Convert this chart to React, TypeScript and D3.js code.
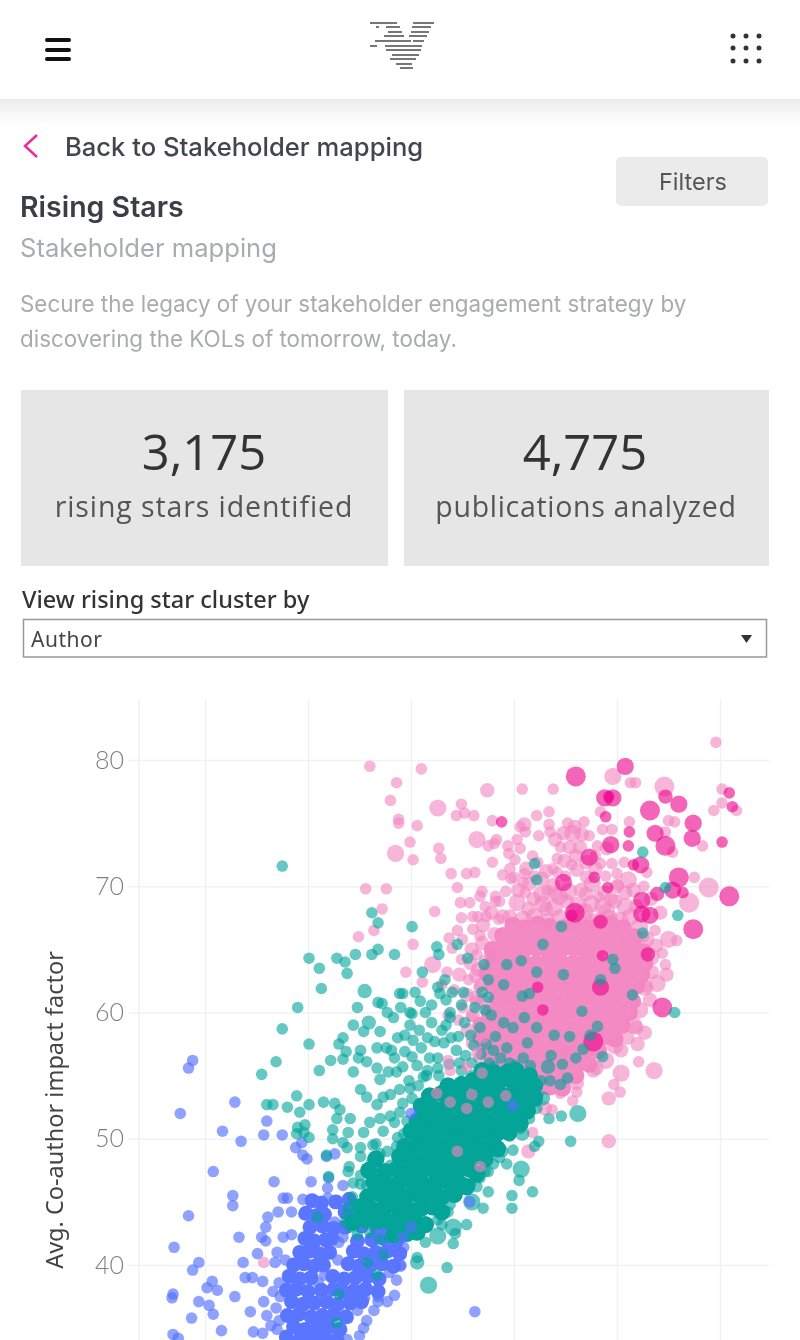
import { useEffect, useRef } from "react";
import * as d3 from "d3";

type Dot = number[]; // [x value, impact factor, size class (default 1)]

const yTicks = [40, 50, 60, 70, 80];
const xTicks = [10, 20, 30, 40, 50, 60];

const pinkLight: Dot[] = [
  [26.0,79.5],[28.6,78.2],[28.0,76.8],[28.8,75.3],[28.8,75.0],[28.5,72.6,3],[25.6,69.8],[27.6,69.8],[27.2,68.2],[26.4,66.5],[24.9,66.0],
  [59.6,81.4],[31.0,79.3],[37.4,77.6,2],[40.8,77.7],[43.8,77.7],[32.6,76.2,3],[34.9,76.5],[34.4,75.6],[35.2,75.8],[36.1,75.6],[37.9,75.2],
  [30.6,74.8],[29.9,73.5],[32.7,73.0],[32.9,72.2],[30.2,72.1],[36.4,73.7,3],[37.5,73.2],[38.3,73.7],[38.1,73.4],[39.4,73.2],[40.3,73.7],
  [40.6,73.0],[39.5,72.6],[40.1,72.1],[41.0,74.9,2],[41.1,74.3],[40.6,74.7],[42.2,75.6],[43.4,75.9],[43.4,74.9],[43.5,74.3],[42.4,74.0],
  [37.9,71.9],[41.8,72.4],[44.2,72.2],[44.5,73.1],[33.9,71.0],[35.4,71.0],[36.2,71.1],[34.5,69.9],[36.9,69.6],[36.7,69.2],[34.8,68.7],
  [35.7,68.7],[32.3,68.0],[34.9,67.5],[36.5,67.6],[37.3,67.6],[38.5,67.4],[34.5,66.5],[36.7,66.1],[33.7,65.9],[30.2,65.4],[34.0,65.1],
  [29.5,63.2],[31.1,62.4],[32.1,63.8,3],[38.2,69.2],[38.6,68.8],[39.7,70.6],[39.2,69.6],[41.1,69.5],[43.2,69.7],[44.2,71.1],[45.7,74.2,3],
  [44.8,74.2,2],[46.6,74.1,2],[45.9,74.7,2],[45.4,73.1,2],[46.4,73.1,2],[48.1,73.2],[46.1,71.3,2],[47.1,70.7,2],[45.0,70.8],[49.6,78.7,3],
  [51.3,78.2],[51.8,78.2],[54.6,77.9,4],[60.2,77.7],[60.2,76.6],[59.4,76.0],[61.6,76.0],[48.4,75.9],[51.2,75.1],[55.0,75.2],[55.6,75.1],
  [48.6,74.5],[49.5,74.5],[54.7,74.3],[58.3,73.2],[55.4,72.7],[48.4,71.8],[49.5,71.8],[52.9,71.1],[51.1,70.5,3],[50.1,70.1],[57.5,70.7],
  [58.9,69.9,4],[57.0,68.7,4],[55.0,65.8,3],[55.8,65.7],[53.7,66.5],[54.7,63.8],[54.8,63.0,2],[53.9,62.3,3],[52.9,62.0],
  [49.8,57.4,3],[52.0,57.5,2],[52.7,58.4,2],[51.9,58.8,2],[52.1,56.1],[53.6,55.4,3],[50.4,55.2,3],[49.7,54.3],[50.3,53.7],[49.2,53.2,2],
  [47.7,55.4,2],[47.2,56.9],[46.1,54.4,2],[46.1,53.7],[45.7,53.0],[44.5,53.6],[43.0,52.4,2],[41.8,50.5],[41.4,49.0,2],[39.9,51.5],[49.2,49.8,2],[36.6,47.7],
  // upper edge of the dense cloud
  [41.5,70.2,2],[42.7,69.4,3],[43.8,70.1,2],[45.3,69.6,3],[46.5,69.7,2],[47.6,70.2,3],[48.8,69.5,2],
  [40.3,68.7,3],[41.4,68.2,2],[42.8,68.6,3],[43.9,68.3,3],[45.1,68.8,2],[46.2,68.5,3],[47.5,68.6,3],[48.6,68.4,3],[49.8,68.8,2],[50.8,68.4,3],
  [39.6,67.6,2],[40.9,67.4,3],[42.0,67.6,3],[43.2,67.2,3],[44.4,67.5,3],[45.6,67.2,3],[46.8,67.5,3],[48.0,67.2,3],[49.2,67.5,3],[50.3,67.3,3],[51.3,67.6,3],
  [40.4,69.7,2],[41.9,69.0,2],[43.1,68.2,2],[44.4,69.2,3],[45.8,68.0,2],[47.0,69.4,2],[48.2,69.2],[49.4,69.0,2],[50.0,70.0,2],[41.0,71.0],[43.8,71.4],[45.6,71.7],
  [47.9,71.4,2],[42.7,70.6,2],[44.0,69.4,2],[46.9,68.0,3],[49.0,68.0,3],[51.9,68.4,2],
  // flanks of the cloud
  [52.2,66.8,3],[52.8,65.8,3],[53.3,64.4,3],[53.4,63.2,2],[52.7,62.0,3],[53.2,61.0,2],[52.2,60.2,3],[51.6,59.0,3],[51.0,58.0,2],[50.4,57.0,2],[48.9,56.2,3],[48.0,55.6,2],
  [37.8,64.6,2],[37.2,64.0,2],[36.5,63.4,2],[36.8,62.2,2],[36.3,61.2,2],[36.0,59.8,2],[35.5,58.6,2],[36.0,57.6,2],[36.6,56.4],[37.4,55.4],
  [35.0,65.8],[36.0,66.6],[37.0,66.9,2],[38.1,66.2,2],[35.9,65.0,2],[36.9,65.5,2],[34.9,64.2],[35.8,63.9,2],[36.4,64.6],[33.5,63.2],[34.7,63.0,2],[35.6,62.6],
  [36.3,62.9,2],[33.0,62.2],[34.2,61.8],[35.4,61.4,2],[36.4,60.8,2],[35.0,60.4],[33.6,59.8],[34.6,59.4],[35.9,59.7],[37.8,67.9,2],[38.9,67.6,2],[37.2,68.4],
  [38.2,68.8],[36.0,67.6],[36.6,62.0],[37.0,61.0,2],
  // above the cloud
  [41.2,71.4,2],[42.3,71.9],[43.1,71.2,2],[40.9,70.3],[42.0,70.8],[44.9,72.0,2],[46.0,72.4,2],[47.0,71.9,2],[47.9,72.4],[48.9,70.8],[50.0,71.0],[49.0,73.0,2],
  [44.0,73.7,2],[47.3,74.0],[45.2,75.0],[46.8,75.1],[50.7,71.9],[40.0,70.7],[38.9,70.9],[39.6,71.4],[50.8,69.5,2],[51.6,69.7,2],[52.6,70.0],[53.3,69.0,2],
  [54.2,67.9,2],[52.6,66.0],[53.8,65.3,2],[54.4,64.7],
];

const pinkCore: Dot[] = [
  [39.9,66.9],[41.0,66.7],[42.3,67.0],[43.4,66.8],[44.7,66.7],[45.8,67.0],[47.0,66.7],[48.2,66.9],[49.4,67.0],[50.6,66.7],
  [38.9,66.1],[39.9,65.9],[41.1,66.0],[42.3,66.1],[43.5,65.9],[44.7,66.0],[45.9,66.1],[47.1,65.9],[48.3,66.0],[49.5,66.1],[50.7,65.9],[51.7,66.0],
  [37.9,65.0],[38.7,65.1],[39.8,64.9],[41.0,65.0],[42.2,65.1],[43.4,64.9],[44.6,65.0],[45.8,65.1],[47.0,64.9],[48.2,65.0],[49.4,65.1],[50.6,64.9],[51.8,65.0],[52.6,64.8],
  [38.0,64.0],[38.7,63.9],[39.7,64.1],[40.9,64.0],[42.1,63.9],[43.3,64.1],[44.5,64.0],[45.7,63.9],[46.9,64.1],[48.1,64.0],[49.3,63.9],[50.5,64.1],[51.7,64.0],[52.7,63.9],
  [37.4,63.1],[38.2,63.0],[39.4,62.9],[40.6,63.1],[41.8,63.0],[43.0,62.9],[44.2,63.1],[45.4,63.0],[46.6,62.9],[47.8,63.1],[49.0,63.0],[50.2,62.9],[51.4,63.1],[52.4,63.0],
  [37.9,62.1],[38.7,61.9],[39.9,62.0],[41.1,62.1],[42.3,61.9],[43.5,62.0],[44.7,62.1],[45.9,61.9],[47.1,62.0],[48.3,62.1],[49.5,61.9],[50.7,62.0],[51.9,62.1],
  [38.4,61.0],[39.5,61.1],[40.7,60.9],[41.9,61.0],[43.1,61.1],[44.3,60.9],[45.5,61.0],[46.7,61.1],[47.9,60.9],[49.1,61.0],[50.3,61.1],[51.5,60.9],
  [37.6,60.0],[38.5,60.1],[39.7,59.9],[40.9,60.0],[42.1,60.1],[43.3,59.9],[44.5,60.0],[45.7,60.1],[46.9,59.9],[48.1,60.0],[49.3,60.1],[50.5,59.9],[51.2,60.0],
  [36.8,59.0],[37.6,59.1],[38.8,58.9],[40.0,59.0],[41.2,59.1],[42.4,58.9],[43.6,59.0],[44.8,59.1],[46.0,58.9],[47.2,59.0],[48.4,59.1],[49.6,58.9],[50.5,59.0],
  [36.8,58.0],[38.1,58.1],[39.3,57.9],[40.5,58.0],[41.7,58.1],[42.9,57.9],[44.1,58.0],[45.3,58.1],[46.5,57.9],[47.7,58.0],[48.9,58.1],[49.8,57.9],
  [37.3,57.0],[38.6,56.9],[39.8,57.1],[41.0,57.0],[42.2,56.9],[43.4,57.1],[44.6,57.0],[45.8,56.9],[47.0,57.1],[48.2,57.0],
  [37.9,56.1],[39.2,56.0],[40.4,55.9],[41.6,56.1],[42.8,56.0],[44.0,55.9],[45.2,56.1],[46.4,56.0],[47.3,55.9],
  [38.8,55.0],[40.0,55.1],[41.2,54.9],[42.4,55.0],[43.6,55.1],[44.8,54.9],[46.0,55.0],
  [39.8,54.1],[41.1,54.0],[42.3,53.9],[43.5,54.1],[44.7,54.0],
];

const hotPink: Dot[] = [
  [46.0,78.7,4],[50.8,79.5,3],[48.8,77.0,3],[49.6,77.0,3],[49.2,77.1],[54.7,77.1,2],[56.0,76.5,3],[53.2,76.0,4],[48.9,75.5],[60.9,77.4],
  [61.2,76.3],[57.4,75.0,3],[57.3,73.8,3],[53.7,74.2,3],[54.7,73.2,4],[51.2,74.3],[51.1,73.2],[49.4,73.3,3],[60.2,73.5],[38.8,75.1],
  [47.3,72.3,3],[51.6,71.7],[52.3,71.7,3],[44.8,70.3,3],[47.8,70.7],[49.1,69.9],[56.0,70.7,4],[55.4,69.7,3],[53.9,69.4,2],[56.4,69.5],
  [52.4,68.9,3],[60.9,69.2,4],[52.4,67.8,3],[53.2,67.7,3],[57.4,66.6,4],[45.9,67.9,4],[45.6,67.7],[48.4,67.2,2],[53.0,64.6,2],[48.6,64.5],
  [48.4,62.0,3],[54.4,60.4,4],[42.3,62.0],[42.8,60.2],[47.7,57.7,4],
];

const tealScatter: Dot[] = [
  [17.5,71.6],[26.2,67.9],[26.8,67.1],[20.1,64.3],[21.1,63.5],[22.8,64.3],[23.6,64.0],[23.8,63.1],[24.6,64.6],[26.2,64.6],[26.8,65.0],[28.4,64.6],
  [21.3,61.9],[25.5,61.7,2],[19.0,60.4],[24.8,60.4],[26.8,60.8],[27.2,60.7],[27.7,60.0],[28.9,61.5],
  [52.5,72.7],[55.9,67.7],[52.5,66.3],[54.7,69.9],[42.0,71.8],[42.2,70.5],[44.6,66.8],[42.8,65.4],[30.1,66.8],[32.5,65.2],[32.7,64.6],[34.5,65.4],
  [31.1,63.2],[33.3,62.6],[32.6,62.0],[32.8,61.5],[34.0,61.6],[30.4,61.6],[29.2,61.5],[35.5,64.3],[37.1,63.8],[39.3,63.8],[40.7,64.1],[42.2,63.2],
  [44.8,63.0],[37.5,62.6],[39.0,62.2],[36.9,61.6],[40.8,61.3],[41.5,61.5],[48.4,62.6],[49.6,64.2],[49.8,63.5],[51.5,61.4],[55.6,60.0],[46.6,60.1],
  [32.0,60.6],[33.8,60.0],[29.9,60.0],
  [17.5,58.7],[20.1,57.5],[16.9,56.1],[15.5,55.1],[21.1,55.4],[22.2,56.2],[24.4,59.0],[25.9,59.2,2],[25.4,58.5],[27.0,58.5],[23.4,58.0],[23.0,57.5],
  [23.7,56.9],[23.4,56.3],[25.1,57.0],[24.9,56.4],[25.7,56.1],[26.7,57.2],[27.6,57.2],[26.7,55.6],[24.4,55.3],[27.0,54.7],[27.8,55.3],[28.4,56.4],
  [28.6,55.3],[18.9,53.4],[16.0,52.7],[16.6,52.7],[18.0,52.5],[20.1,52.7],[21.5,52.9],[19.2,52.1],[22.6,52.8],[23.1,52.3],[24.1,51.6],[22.8,51.6],
  [19.0,50.9],[19.7,51.1],[18.9,50.4],[19.6,50.5],[20.1,50.1],[22.4,50.7],[23.9,50.5],[25.4,50.5],[22.4,50.0],[23.4,49.7],[23.8,49.3],[26.3,49.5],
  [25.1,49.3],[25.1,48.6],[21.8,48.7],[24.0,47.8],[23.9,47.4],[25.1,47.1],[22.0,47.0],[24.4,46.5],[25.1,53.9],[25.7,53.3],[27.3,53.3],[26.7,52.7],
  [27.0,51.6],[26.0,51.3],[28.4,51.3],[28.0,53.5],[28.7,50.1],[28.9,52.1],[27.7,49.0],[28.0,47.9],[26.7,47.7],[25.7,46.3],
  [46.2,52.0,3],[45.5,49.8],[44.6,51.8],[43.4,51.6],[42.4,49.8],[42.0,49.4],[39.9,49.1],[40.7,47.6,3],[40.5,46.7],[41.8,45.8],[37.5,45.8],[39.8,45.5],
  [39.8,44.5],[37.0,44.5],[35.9,45.0,3],[33.6,44.2],[35.4,43.2],[34.1,43.0,3],[34.3,42.5],[32.6,42.3,3],[34.1,41.7],[33.0,43.2],[30.6,40.6],[30.6,40.2,2],
  [33.5,39.8],[31.7,38.4,3],[40.8,50.4,2],[38.4,49.5],[39.3,48.0],[38.6,48.5],[37.5,47.4],[36.7,46.9],[35.8,46.5],[48.6,56.5],[48.1,58.9],[43.3,55.7,2],
  [45.2,54.8],[42.8,53.2,2],[45.4,58.1],[39.9,58.8],[42.2,58.8],[40.9,56.4],[40.1,55.8],[38.0,55.7],[38.2,58.1],[36.7,58.8],[31.8,56.4],[30.2,57.8],
  [32.0,59.2],[33.8,59.6],[29.2,55.7],[31.2,54.9],[29.9,59.0],[32.6,56.4],[34.6,58.1],[36.1,57.4],[35.2,59.2],[37.2,60.2],[30.8,58.6],[33.2,57.6],
  // thick patch leading into the main cluster
  [29.4,58.2],[30.1,56.5],[31.0,57.2],[31.6,58.0],[32.3,57.7],[33.0,58.6],[33.9,58.0],[34.4,57.0],[35.3,56.6],[34.7,56.0],[35.9,56.0],[36.8,56.7],
  [37.3,57.5],[38.0,57.0],[38.7,56.4],[39.3,57.2],[39.0,59.2],[37.8,59.8],[36.2,60.4],[34.9,60.6],[33.4,61.0],[31.4,60.0],[30.9,60.9],[30.1,59.9],
  [29.0,60.4],[28.3,59.6],[28.7,58.0],[28.1,57.0],[29.4,56.9],[30.6,55.8],[31.6,55.4],[32.7,55.0],[29.8,54.6],[28.9,53.9],[30.1,53.2],[30.8,52.0],
  [29.6,51.4],[29.3,50.4],[28.6,49.4],[29.9,49.0],[33.4,59.0],[35.8,58.2],[37.5,61.2],[35.1,61.6],[41.3,57.6],[43.9,58.2],[41.0,59.6],[46.7,57.1],
  [43.6,56.6],[44.7,55.9],[46.0,56.4],[47.4,58.2],[44.5,54.3],[43.5,54.6],
  // rim of the main cluster
  [26.6,49.6],[27.3,50.6],[28.0,51.8],[29.2,52.8],[29.9,54.0],[30.7,54.2],[31.5,55.0],[32.6,55.6],[33.7,55.9],[34.9,55.4],[35.9,55.0],[27.0,48.8],
  [26.2,48.2],[25.1,46.4],[24.3,45.4],[23.9,44.6],[23.6,43.4],[24.8,42.4],[26.0,42.6],[27.0,42.0],[31.4,41.8],[32.6,43.6],[33.8,44.8],[35.2,46.4],
  [36.4,46.2],[37.2,47.4],[38.0,48.0],[38.9,49.0],[39.6,50.2],[40.6,50.8],[41.5,51.6],[42.2,52.4],[42.6,54.6],[41.6,55.8],[39.6,56.0],[37.6,56.0],
];

const tealCore: Dot[] = [
  [36.9,55.4],[38.1,55.2],[39.4,55.3],[40.2,55.4],[41.5,55.0],
  [33.6,54.2],[34.9,54.3],[36.0,54.6],[37.2,54.4],[38.5,54.5],[39.8,54.6],[41.0,54.4],[42.0,54.2],
  [31.8,53.4],[33.0,53.6],[34.1,53.5],[35.2,53.4],[36.5,53.6],[37.7,53.5],[38.9,53.4],[40.0,53.6],[41.2,53.5],[42.0,53.2],
  [31.0,52.6],[32.2,52.4],[33.4,52.5],[34.6,52.6],[35.8,52.4],[37.0,52.5],[38.2,52.6],[39.4,52.4],[40.6,52.5],[41.3,52.2],
  [30.6,51.4],[31.8,51.6],[32.9,51.5],[34.0,51.4],[35.2,51.6],[36.4,51.5],[37.6,51.4],[38.8,51.6],[40.0,51.5],[40.6,51.2],
  [30.0,50.6],[31.2,50.4],[32.4,50.5],[33.6,50.6],[34.7,50.4],[35.9,50.5],[37.1,50.6],[38.3,50.4],[39.5,50.5],
  [29.4,49.4],[30.7,49.6],[31.9,49.5],[33.0,49.4],[34.2,49.6],[35.4,49.5],[36.6,49.4],[37.8,49.6],[38.4,49.2],
  [28.9,48.6],[30.1,48.4],[31.3,48.5],[32.5,48.6],[33.7,48.4],[34.9,48.5],[36.1,48.6],[37.2,48.4],
  [26.6,48.4],[27.5,47.4],[28.6,47.6],[29.8,47.5],[31.0,47.4],[32.1,47.6],[33.3,47.5],[34.5,47.4],[35.7,47.6],[36.4,47.2],
  [25.9,47.5],[26.4,46.6],[27.6,46.4],[28.8,46.5],[30.0,46.6],[31.2,46.4],[32.4,46.5],[33.6,46.6],[34.8,46.4],[35.4,46.2],
  [25.8,45.4],[27.0,45.6],[28.2,45.5],[29.4,45.4],[30.6,45.6],[31.8,45.5],[33.0,45.4],[34.2,45.6],
  [25.0,44.6],[26.2,44.4],[27.4,44.5],[28.6,44.6],[29.8,44.4],[31.0,44.5],[32.1,44.6],[33.0,44.2],
  [24.4,43.4],[25.6,43.6],[26.8,43.5],[28.0,43.4],[29.2,43.6],[30.4,43.5],[31.4,43.2],
  [28.4,42.4],[29.6,42.5],[30.6,42.6],
];

const blueScatter: Dot[] = [
  [8.8,56.2],[8.4,55.6],[7.6,52.0],[12.9,52.9],[16.0,51.4],[11.7,50.6],[13.5,49.8],[15.7,50.3],[17.5,50.3],[10.8,47.4],[18.8,49.3],[19.4,49.7],
  [19.5,48.7],[19.9,48.4],[21.8,48.6],[22.6,48.8],[16.7,46.6],[20.3,46.6],[22.0,46.9],[21.9,46.1],[23.4,46.3],[12.7,45.5],[12.7,44.7],[17.6,45.3],
  [18.0,45.3],[19.5,45.2],[21.9,45.3],[22.8,45.1],[8.4,43.9],[17.1,44.2],[18.4,44.2],[19.6,44.0],[16.1,43.8],[15.9,43.0],[13.3,42.2],[15.5,42.2],
  [15.9,41.9],[17.6,42.2],[18.4,42.4],[7.0,41.4],[15.1,40.9],[9.4,40.2],[8.8,39.6],[13.7,40.2],[16.8,40.2],[13.9,39.0],[14.6,39.0],[15.6,38.7],
  [10.7,38.7],[10.2,38.2],[11.2,38.0],[12.9,37.5],[6.9,37.7],[6.8,37.4],[9.4,37.1],[10.4,36.8],[10.8,36.1],[8.7,35.8],[14.4,36.3],[15.7,37.1],
  [16.0,36.0],[11.6,34.8],[14.7,34.7],[15.6,34.6],[6.9,34.5],[7.4,34.2],[17.0,34.9],[17.3,37.5],[36.2,36.3],
  // fringe of the blue cluster
  [17.0,41.0],[17.8,40.4],[18.0,39.2],[17.2,38.6],[16.6,37.9],[16.9,36.6],[17.2,35.6],[16.4,35.2],[22.9,40.4],[23.0,41.8],[23.4,42.2],[22.6,43.4],
  [21.0,38.6],[21.6,39.2],[27.9,39.4],[28.6,38.8],[28.4,37.6],[25.7,35.6],[27.7,37.1],[26.8,37.1],[26.8,37.5],[25.5,37.4],[24.8,36.4],[23.9,35.8],
  [26.4,36.4],[25.4,35.0],[25.0,34.4],[23.8,34.1],[29.0,39.9],
];

const blueCore: Dot[] = [
  [20.4,45.1],[21.3,44.9],[22.7,45.0],[24.0,45.2],
  [19.8,44.1],[20.8,43.9],[21.6,44.0],[23.6,44.2],[24.9,43.9],
  [20.2,43.0],[21.4,43.1],[22.5,42.9],[23.6,43.0],[25.2,43.1],[26.7,42.9],[27.9,43.0],[29.0,43.1],
  [19.7,42.1],[20.6,41.9],[21.7,42.0],[22.3,42.1],[24.8,41.9],[26.2,42.0],[27.4,42.1],[28.6,41.9],
  [19.2,41.0],[20.1,41.1],[21.1,40.9],[22.1,41.0],[24.4,41.1],[25.4,40.9],[26.6,41.0],[27.7,41.1],[28.9,40.9],
  [18.6,40.0],[19.6,40.1],[20.6,39.9],[21.5,40.0],[23.9,40.1],[24.9,39.9],[26.1,40.0],[27.2,40.1],[28.3,39.9],
  [18.2,39.1],[19.2,38.9],[20.3,39.0],[22.4,39.1],[23.5,38.9],[24.6,39.0],[25.8,39.1],[26.9,38.9],
  [17.9,38.0],[18.9,38.1],[20.0,37.9],[21.3,38.0],[22.5,38.1],[23.4,37.9],[24.5,38.0],[25.6,38.1],[26.8,37.9],
  [18.4,37.1],[19.5,36.9],[20.6,37.0],[21.8,37.1],[22.9,36.9],[24.1,37.0],[25.2,37.1],
  [18.0,36.0],[19.1,36.1],[20.3,35.9],[21.4,36.0],[22.5,36.1],[23.7,35.9],
  [18.6,35.1],[19.7,34.9],[20.9,35.0],[22.0,35.1],[23.1,34.9],
  [17.9,34.3],[19.2,34.1],[20.5,34.2],[21.6,34.3],[22.8,34.1],
];

const tealOnBlue: Dot[] = [
  [23.0,37.7],[25.8,40.2],[26.7,39.2],[22.8,35.4],[20.9,43.8],[23.8,44.0],[24.1,43.0],[27.3,40.8],[27.9,42.2],
];

const blueOnTeal: Dot[] = [
  [30.0,52.0],[39.9,52.6],[35.7,45.0],[30.0,43.0],[29.2,42.2],[29.3,41.4],[29.0,40.0],
];

const pinkOnTeal: Dot[] = [
  [32.5,53.6],[33.8,55.4],[33.6,56.2],[36.4,56.8],[37.0,58.0],[35.4,55.7],[35.9,53.5],[35.4,52.4],[33.8,52.9],[39.2,53.4],[37.5,52.9],[36.9,55.2],
  [34.5,49.0],[36.7,47.8],[43.7,52.3],[45.0,56.9],[15.7,40.2],
];

// the stripes of the logo at the top, [left, right, row]
const logoStripes = [
  [370,397,23],[413,434,23],[376,379,27],[386,400,27],[412,431,27],[388,402,32],[411,429,32],[384,404,36],[409,427,36],
  [375,411,41],[413,424,41],[370,377,46],[385,422,46],[386,421,50],[392,419,55],[390,416,59],[396,412,64],[400,413,68],
];

const uiFont = "Inter, 'Noto Sans', sans-serif";
const cardFont = "'Open Sans', 'Noto Sans', sans-serif";

const radius = d3.scaleLinear().domain([1, 4]).range([5.8, 10]);

const layers: { dots: Dot[]; fill: string; opacity: number; size?: number }[] = [
  { dots: pinkCore, fill: "#f48ac3", opacity: 1, size: 3 },
  { dots: pinkLight, fill: "#f285c0", opacity: 0.6 },
  { dots: hotPink, fill: "#ec068c", opacity: 0.62 },
  { dots: blueScatter, fill: "#5470ff", opacity: 0.65 },
  { dots: blueCore, fill: "#5a75ff", opacity: 1, size: 2.2 },
  { dots: tealScatter, fill: "#00a499", opacity: 0.6 },
  { dots: tealCore, fill: "#04a498", opacity: 1, size: 3 },
  { dots: tealOnBlue, fill: "#00a499", opacity: 0.6 },
  { dots: blueOnTeal, fill: "#5470ff", opacity: 0.65 },
  { dots: pinkOnTeal, fill: "#f285c0", opacity: 0.6 },
];

export default function App() {
  const chartRef = useRef<SVGGElement>(null);

  useEffect(() => {
    const g = d3.select(chartRef.current);
    g.selectAll("*").remove();

    const x = d3.scaleLinear().domain([10, 60]).range([205, 720]);
    const y = d3.scaleLinear().domain([40, 80]).range([1265, 760]);

    // grid
    const axisY = g
      .append("g")
      .attr("transform", "translate(129,0)")
      .call(d3.axisLeft(y).tickValues(yTicks).tickSize(-640).tickPadding(5).tickFormat(d3.format("d")));
    axisY.select(".domain").remove();
    axisY.selectAll("line").attr("stroke", "#f1f1f1").attr("stroke-width", 1.5);
    axisY
      .selectAll("text")
      .attr("fill", "#7f7f7f")
      .style("font-family", "Lato, sans-serif")
      .style("font-size", "25px")
      .style("font-weight", 300);

    const axisX = g
      .append("g")
      .attr("transform", "translate(0,1340)")
      .call(d3.axisBottom(x).tickValues(xTicks).tickSize(-641).tickFormat(() => ""));
    axisX.select(".domain").remove();
    axisX.selectAll("line").attr("stroke", "#f1f1f1").attr("stroke-width", 1.5);

    g.append("line")
      .attr("x1", 139)
      .attr("x2", 139)
      .attr("y1", 699)
      .attr("y2", 1340)
      .attr("stroke", "#f1f1f1")
      .attr("stroke-width", 1.5);

    // dots
    layers.forEach((layer) => {
      g.append("g")
        .selectAll("circle")
        .data(layer.dots)
        .enter()
        .append("circle")
        .attr("cx", (d) => x(d[0]))
        .attr("cy", (d) => y(d[1]))
        .attr("r", (d) => radius(layer.size ?? d[2] ?? 1))
        .attr("fill", layer.fill)
        .attr("opacity", layer.opacity);
    });
  }, []);

  return (
    <svg
      width={800}
      height={1340}
      style={{ position: "absolute", left: 0, top: 0, background: "#fff", filter: "blur(0.5px)" }}
    >
      <defs>
        <linearGradient id="headerShadow" x1="0" x2="0" y1="0" y2="1">
          <stop offset="0" stopColor="#ececec" />
          <stop offset="1" stopColor="#ffffff" />
        </linearGradient>
      </defs>

      <rect x={0} y={99} width={800} height={26} fill="url(#headerShadow)" />

      {[40, 50, 59].map((v) => (
        <line key={v} x1={47} x2={69} y1={v} y2={v} stroke="#111" strokeWidth={4} strokeLinecap="round" />
      ))}
      {[36, 48, 61].map((cy) =>
        [733, 746, 759].map((cx) => <circle key={`${cx}-${cy}`} cx={cx} cy={cy} r={2.5} fill="#333" />)
      )}
      {logoStripes.map(([a, b, v], i) => (
        <line key={i} x1={a} x2={b} y1={v} y2={v} stroke="#777" strokeWidth={2} />
      ))}

      <polyline points="37,135 25,146 37,157" fill="none" stroke="#ee2b9c" strokeWidth={2.5} />
      <text x={65} y={156} fontFamily={uiFont} fontSize={25.6} fontWeight={500} fill="#41464d">
        Back to Stakeholder mapping
      </text>
      <rect x={616} y={157} width={152} height={49} rx={5} fill="#ebebeb" />
      <text x={693} y={190} textAnchor="middle" fontFamily={uiFont} fontSize={23.5} fill="#555">
        Filters
      </text>
      <text x={20} y={217} fontFamily={uiFont} fontSize={28.5} fontWeight={600} fill="#3a3f46">
        Rising Stars
      </text>
      <text x={20} y={257} fontFamily={uiFont} fontSize={25.6} fill="#a9abae">
        Stakeholder mapping
      </text>
      <text x={20} y={312} fontFamily={uiFont} fontSize={22.4} fill="#a9abae">
        Secure the legacy of your stakeholder engagement strategy by
      </text>
      <text x={20} y={347} fontFamily={uiFont} fontSize={22.4} fill="#a9abae">
        discovering the KOLs of tomorrow, today.
      </text>

      <rect x={21} y={390} width={367} height={176} fill="#e6e6e6" />
      <rect x={404} y={390} width={365} height={176} fill="#e6e6e6" />
      <text x={204} y={470} textAnchor="middle" fontFamily={cardFont} fontSize={49} fill="#333">
        3,175
      </text>
      <text x={204} y={517} textAnchor="middle" fontFamily={cardFont} fontSize={28.5} letterSpacing={0.9} fill="#555">
        rising stars identified
      </text>
      <text x={585} y={470} textAnchor="middle" fontFamily={cardFont} fontSize={49} fill="#333">
        4,775
      </text>
      <text x={586} y={517} textAnchor="middle" fontFamily={cardFont} fontSize={28.5} letterSpacing={0.7} fill="#555">
        publications analyzed
      </text>

      <text x={22} y={608} fontFamily="'Noto Sans', sans-serif" fontSize={23.5} fontWeight={500} fill="#333">
        View rising star cluster by
      </text>
      <rect x={23.5} y={619.5} width={743} height={37.5} fill="#fff" stroke="#999" strokeWidth={1.5} />
      <text x={31} y={647} fontFamily="'Noto Sans', sans-serif" fontSize={21} letterSpacing={0.5} fill="#444">
        Author
      </text>
      <polygon points="741,635 752,635 746.5,643" fill="#333" />

      <g ref={chartRef} />

      <text
        transform="translate(63,1110) rotate(-90)"
        textAnchor="middle"
        fontFamily="'Noto Sans', sans-serif"
        fontSize={23.5}
        fill="#444"
      >
        Avg. Co-author impact factor
      </text>
    </svg>
  );
}
